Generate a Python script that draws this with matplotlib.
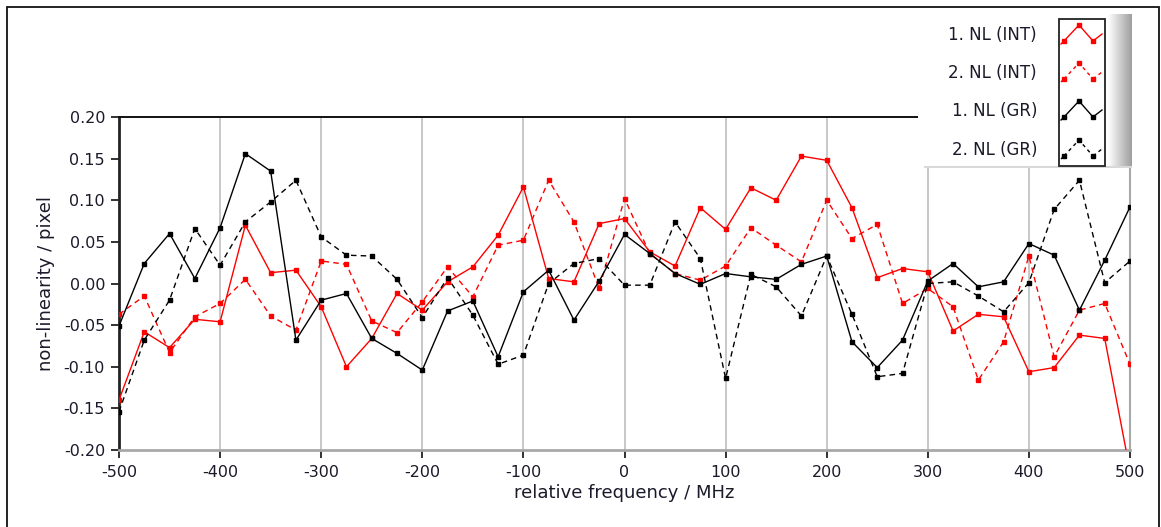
import numpy as np
import matplotlib
matplotlib.use('Agg')
import matplotlib.pyplot as plt
from matplotlib.patches import Rectangle

freq = np.arange(-500, 501, 25)

nl_int_1 = [-0.140, -0.058, -0.077, -0.043, -0.046, 0.070, 0.013, 0.016, -0.028, -0.100,
            -0.066, -0.012, -0.032, 0.002, 0.020, 0.058, 0.116, 0.006, 0.002, 0.072,
            0.078, 0.038, 0.021, 0.091, 0.065, 0.115, 0.100, 0.153, 0.148, 0.091,
            0.007, 0.018, 0.014, -0.057, -0.037, -0.040, -0.106, -0.101, -0.062, -0.066,
            -0.225]
nl_int_2 = [-0.037, -0.015, -0.083, -0.040, -0.024, 0.005, -0.039, -0.056, 0.027, 0.023,
            -0.045, -0.059, -0.022, 0.020, -0.016, 0.046, 0.052, 0.124, 0.074, -0.006,
            0.102, 0.036, 0.012, 0.004, 0.021, 0.067, 0.046, 0.026, 0.100, 0.054,
            0.071, -0.024, -0.006, -0.028, -0.116, -0.070, 0.033, -0.088, -0.032, -0.024,
            -0.097]
nl_gr_1 = [-0.051, 0.024, 0.060, 0.006, 0.067, 0.156, 0.135, -0.068, -0.020, -0.012,
           -0.066, -0.084, -0.104, -0.033, -0.021, -0.088, -0.010, 0.016, -0.044, 0.003,
           0.059, 0.036, 0.012, -0.001, 0.012, 0.008, 0.005, 0.023, 0.033, -0.070,
           -0.101, -0.068, 0.003, 0.024, -0.004, 0.002, 0.048, 0.034, -0.032, 0.028,
           0.092]
nl_gr_2 = [-0.154, -0.068, -0.020, 0.066, 0.022, 0.074, 0.098, 0.124, 0.056, 0.034,
           0.033, 0.005, -0.041, 0.007, -0.038, -0.097, -0.086, 0.000, 0.024, 0.030,
           -0.002, -0.002, 0.074, 0.030, -0.114, 0.011, -0.004, -0.039, 0.033, -0.037,
           -0.112, -0.108, 0.000, 0.002, -0.015, -0.034, 0.001, 0.089, 0.124, 0.001,
           0.027]

labels = ['1. NL (INT)', '2. NL (INT)', '1. NL (GR)', '2. NL (GR)']
colors = ['#ff0000', '#ff0000', '#000000', '#000000']
dashed = [False, True, False, True]
series = [nl_int_1, nl_int_2, nl_gr_1, nl_gr_2]

x_ticks = [-500, -400, -300, -200, -100, 0, 100, 200, 300, 400, 500]
y_ticks = [-0.20, -0.15, -0.10, -0.05, 0.00, 0.05, 0.10, 0.15, 0.20]
y_ticklabels = ['-0.20', '-0.15', '-0.10', '-0.05', '0.00', '0.05', '0.10', '0.15', '0.20']

plt.rcParams['font.family'] = 'DejaVu Sans'
plt.rcParams['axes.unicode_minus'] = False
txt = '#1a1a2a'
W, H = 1161, 527

fig = plt.figure(figsize=(W / 100, H / 100), dpi=100)
ax = fig.add_axes([119 / W, 1 - 450 / H, (1130 - 119) / W, (450 - 117) / H])

for y, c, d, lab in zip(series, colors, dashed, labels):
    ls = (0, (4, 3)) if d else '-'
    ax.plot(freq, y, color=c, linestyle=ls, lw=1.0, marker='s', ms=3.5,
            mec=c, mfc=c, label=lab, zorder=3)

ax.set_xlim(-500, 500)
ax.set_ylim(-0.2, 0.2)
ax.set_xticks(x_ticks)
ax.set_xticklabels([str(v) for v in x_ticks])
ax.set_yticks(y_ticks)
ax.set_yticklabels(y_ticklabels)
ax.grid(axis='x', color='#c4c4c4', lw=1.3)
ax.set_axisbelow(True)
ax.tick_params(axis='both', colors='#222222', labelcolor=txt, labelsize=11.5,
               length=6, width=1.3, direction='out')
ax.tick_params(axis='y', pad=4)
ax.tick_params(axis='x', pad=5)
ax.spines['left'].set_color('#222222')
ax.spines['left'].set_linewidth(2)
ax.spines['top'].set_color('#111111')
ax.spines['top'].set_linewidth(1.4)
ax.spines['bottom'].set_color('#a8a8a8')
ax.spines['bottom'].set_linewidth(2)
ax.spines['right'].set_color('#a8a8a8')
ax.spines['right'].set_linewidth(1.5)
ax.set_xlabel('relative frequency / MHz', fontsize=13, color=txt, labelpad=3)
ax.set_ylabel('non-linearity / pixel', fontsize=13, color=txt, labelpad=6)

# outer frame
fig.patches.append(Rectangle((7 / W, -0.05), (1159 - 7) / W, 1.05 - 7 / H,
                             transform=fig.transFigure, fill=False,
                             edgecolor='#111111', lw=1.3, zorder=0))

# legend panel drawn on top of plot area
lx0, lx1, ly0, ly1 = 918, 1132, 14, 168
lax = fig.add_axes([lx0 / W, 1 - ly1 / H, (lx1 - lx0) / W, (ly1 - ly0) / H])
lax.set_xlim(lx0, lx1)
lax.set_ylim(ly1, ly0)
lax.axis('off')
lax.add_patch(Rectangle((lx0, ly0), lx1 - lx0, ly1 - ly0, facecolor='white',
                        edgecolor='none', zorder=0))
grad = np.linspace(1.0, 0.62, 64)[None, :]
lax.imshow(grad, extent=(1108, 1132, ly1 - 1, ly0), cmap='gray', vmin=0, vmax=1,
           aspect='auto', zorder=1)
lax.plot([925, 1132], [ly1 - 1, ly1 - 1], color='#d8d8d8', lw=1.5, zorder=2)
lax.add_patch(Rectangle((1059, 19), 46, 147, facecolor='white',
                        edgecolor='#222222', lw=1.3, zorder=3))
rows = [35, 73, 111, 150]
gx = np.array([1064, 1079, 1093, 1102])
gy = np.array([6, -10, 6, -1])
for r, c, d, lab in zip(rows, colors, dashed, labels):
    lax.text(1037, r, lab, ha='right', va='center', fontsize=12, color=txt, zorder=4)
    ls = (0, (2.5, 2.5)) if d else '-'
    lax.plot(gx[:3], r + gy[:3], color=c, linestyle=ls, lw=1.0, marker='s', ms=3.5,
             mec=c, mfc=c, zorder=4)
    lax.plot(gx[2:], r + gy[2:], color=c, linestyle=ls, lw=1.0, zorder=4)
    lax.plot([1061, gx[0]], [r + 9, r + gy[0]], color=c, linestyle=ls, lw=1.0, zorder=4)

fig.savefig('out.png', dpi=100)
